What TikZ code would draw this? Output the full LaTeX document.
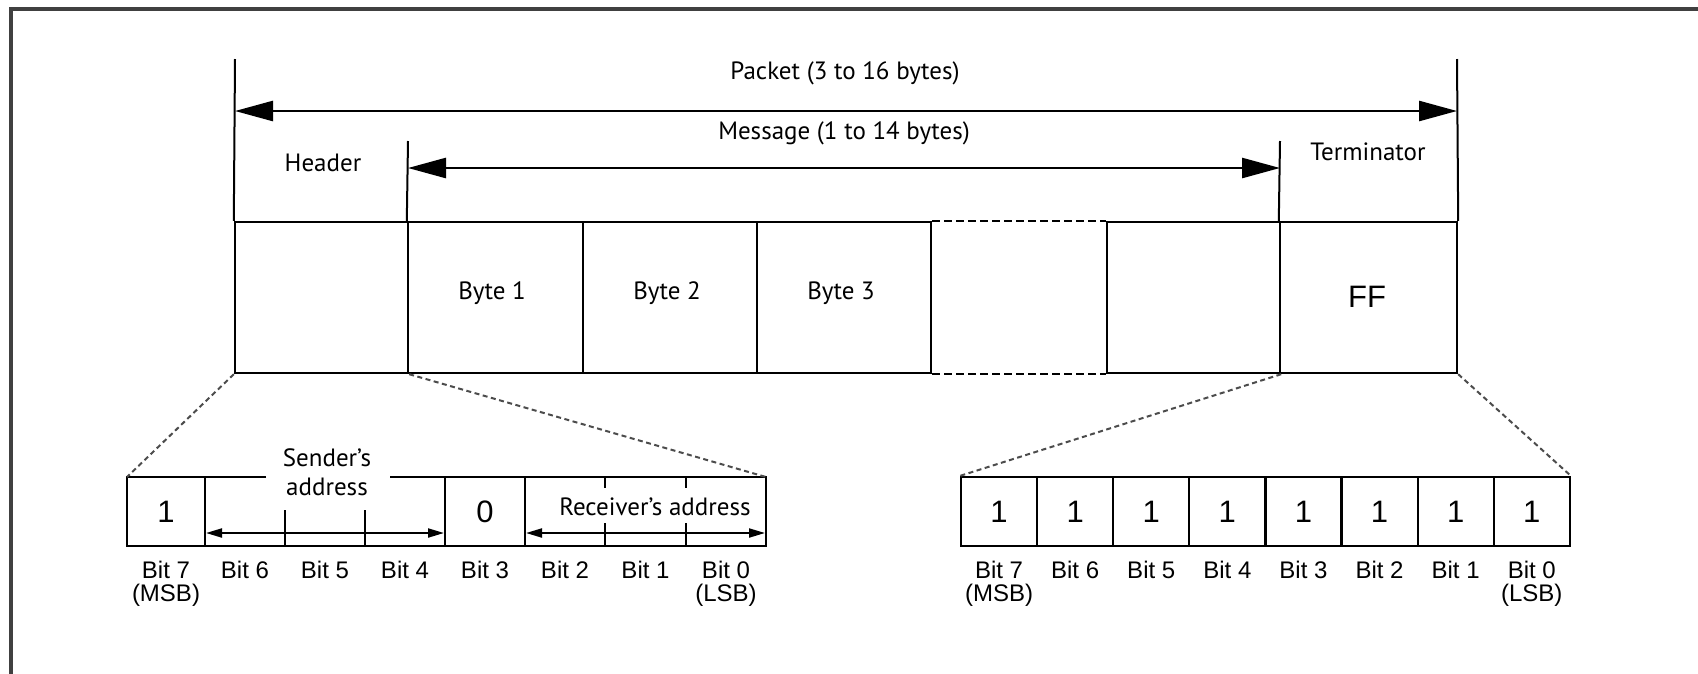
\documentclass[tikz,border=0pt]{standalone}
\usepackage{fontspec}
\setmainfont{PT Sans}
\newfontfamily\arl{Liberation Sans}
\usetikzlibrary{arrows.meta}
\begin{document}
\begin{tikzpicture}[x=1pt,y=-1pt,
  cell/.style={draw, line width=2.4pt, inner sep=0pt, minimum height=151pt, rectangle},
  bcell/.style={draw, line width=2.2pt, inner sep=0pt, minimum height=69pt, minimum width=76.1pt, rectangle},
  lbl/.style={font=\fontsize{25}{29}\selectfont, inner sep=0pt, align=center},
  bitlbl/.style={font=\arl\fontsize{24}{28}\selectfont, inner sep=0pt},
  digit/.style={font=\arl\fontsize{31}{36}\selectfont, inner sep=0pt},
  dimline/.style={line width=2pt},
  bigarrow/.style={line width=2.6pt, {Triangle[length=38pt,width=20pt]}-{Triangle[length=38pt,width=20pt]}},
  smallarrow/.style={line width=2pt, {Triangle[length=16pt,width=9pt]}-{Triangle[length=16pt,width=9pt]}},
  bitline/.style={line width=2.2pt},
  zoomline/.style={line width=2pt, black!70, dash pattern=on 5pt off 3.5pt},
  gapline/.style={line width=2.4pt, dash pattern=on 7.5pt off 4.5pt}
]
\useasboundingbox (0,0) rectangle (1698,673);
% outer frame
\draw[line width=3.5pt, black!75] (11,700) -- (11,9) -- (1720,9);

% main packet cells
\node[cell, minimum width=173pt] (hdr) at (321.5,297.5) {};
\node[cell, minimum width=175pt] (b1) at (495.5,297.5) {};
\node[cell, minimum width=174pt] (b2) at (670,297.5) {};
\node[cell, minimum width=174pt] (b3) at (844,297.5) {};
\node[cell, minimum width=173pt] (bl) at (1193.5,297.5) {};
\node[cell, minimum width=177pt] (term) at (1368.5,297.5) {};
\draw[gapline] (b3.north east) -- (bl.north west);
\draw[gapline] (b3.south east) -- (bl.south west);

\node[lbl] (t1) at (492,293) {Byte 1};
\node[lbl] (t2) at (667,293) {Byte 2};
\node[lbl] (t3) at (841,293) {Byte 3};
\node[digit] (ff) at (1367,297) {FF};

% packet dimension
\coordinate (pktL) at (235,59);
\coordinate (pktR) at (1457,59);
\coordinate (pa1) at (235,111);
\coordinate (pa2) at (1457,111);
\draw[dimline] (pktL) -- (hdr.north west);
\draw[dimline] (pktR) -- (term.north east);
\draw[bigarrow] (pa1) -- (pa2);
\node[lbl] (pkt) at (845,73) {Packet (3 to 16 bytes)};

% message dimension
\coordinate (msgL) at (408,141);
\coordinate (msgR) at (1280,141);
\coordinate (ma1) at (408,168);
\coordinate (ma2) at (1280,168);
\draw[dimline] (msgL) -- (b1.north west);
\draw[dimline] (msgR) -- (term.north west);
\draw[bigarrow] (ma1) -- (ma2);
\node[lbl] (msg) at (844,133) {Message (1 to 14 bytes)};
\node[lbl] (hdrl) at (323,163) {Header};
\node[lbl] (terml) at (1368,152) {Terminator};

% left bit box (header byte)
\coordinate (lTL) at (127,477);
\coordinate (lTR) at (766,477);
\draw[bitline] (266,477) -| (127,546) -| (766,477) -- (390,477);
\foreach \x in {205,445,525} \draw[bitline] (\x,477) -- (\x,546);
\foreach \x in {285,365} \draw[bitline] (\x,510) -- (\x,546);
\foreach \x in {605,686} {\draw[bitline] (\x,477) -- (\x,488); \draw[bitline] (\x,523) -- (\x,546);}
\coordinate (sa1) at (206,533);
\coordinate (sa2) at (444,533);
\coordinate (ra1) at (526,533);
\coordinate (ra2) at (765,533);
\draw[smallarrow] (sa1) -- (sa2);
\draw[smallarrow] (ra1) -- (ra2);
\node[digit] (l7) at (166,512) {1};
\node[digit] (l3) at (485,512) {0};
\node[lbl] (snd) at (327,472) {Sender's\\address};
\node[lbl] (rcv) at (655,507) {Receiver's address};

\foreach \c/\n in {166/7,245/6,325/5,405/4,485/3,565/2,645.5/1,726/0}
  \node[bitlbl] (lb\n) at (\c,570) {Bit \n};
\node[bitlbl] (lmsb) at (166,595) {(MSB)};
\node[bitlbl] (llsb) at (726,595) {(LSB)};

% right bit box (terminator byte)
\foreach \i in {0,...,7} {
  \pgfmathsetmacro{\cx}{961+76.1*(7-\i+0.5)}
  \node[bcell] (r\i) at (\cx,511.5) {};
  \node[digit] (rd\i) at (\cx,512) {1};
  \node[bitlbl] (rb\i) at (\cx,570) {Bit \i};
}
\node[bitlbl] (rmsb) at (r7.center |- 0,595) {(MSB)};
\node[bitlbl] (rlsb) at (r0.center |- 0,595) {(LSB)};

% zoom lines
\draw[zoomline] (hdr.south west) -- (lTL);
\draw[zoomline] (hdr.south east) -- (lTR);
\draw[zoomline] (bl.south east) -- (r7.north west);
\draw[zoomline] (term.south east) -- (r0.north east);
\end{tikzpicture}
\end{document}
